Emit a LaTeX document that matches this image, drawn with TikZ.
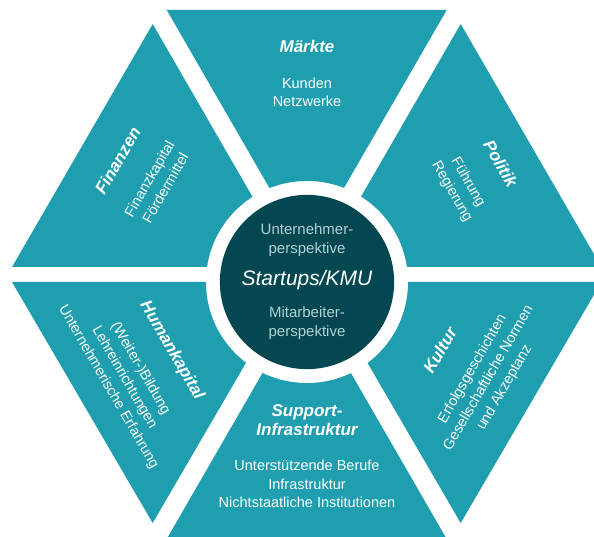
\documentclass[tikz,border=0pt]{standalone}
\usepackage{fontspec}
\setmainfont{Liberation Sans}
\usepackage{tikz}

\definecolor{hexteal}{RGB}{31,158,176}
\definecolor{hexcore}{RGB}{3,71,80}
\definecolor{corefont}{RGB}{178,209,215}

\newcommand{\fieldhead}{\bfseries\itshape\fontsize{17}{20}\selectfont}

\begin{document}
\begin{tikzpicture}[x=1pt, y=1pt,
        sector/.style={fill=hexteal},
        fieldtext/.style={text=white, align=center, inner sep=0pt,
            font=\fontsize{14.5}{18.5}\selectfont}]
            \clip (0, 0) rectangle (594, 536);
            \fill[sector] (166.7, 526) -- (446.7, 526) -- (306.7, 283.5) -- cycle;
            \fill[sector] (12, 269) -- (152.7, 512) -- (293, 269) -- cycle;
            \fill[sector] (12, 254) -- (152.7, 13) -- (293, 254) -- cycle;
            \fill[sector] (601.4, 269) -- (460.7, 512) -- (320.4, 269) -- cycle;
            \fill[sector] (601.4, 254) -- (460.7, 13) -- (320.4, 254) -- cycle;
            \fill[sector] (166.7, -3) -- (446.7, -3) -- (306.7, 239.5) -- cycle;
            \fill[white] (307, 254) circle (101);
            \node[circle, fill=hexcore, minimum size=174pt, inner sep=0pt,
                text=corefont, align=center, font=\fontsize{15}{19}\selectfont]
                (core) at (307, 254)
                {Unternehmer-\\perspektive\\[13pt]
                 {\color{white}\itshape\fontsize{21}{24}\selectfont Startups/KMU}\\[13pt]
                 Mitarbeiter-\\perspektive};
            \node[fieldtext] (maerkte) at (307, 462.5)
                {{\fieldhead Märkte}\\[17pt]Kunden\\Netzwerke};
            \node[fieldtext, rotate=60] (finanzen) at (141, 362)
                {{\fieldhead Finanzen}\\[17pt]Finanzkapital\\Fördermittel};
            \node[fieldtext, rotate=-60] (politik) at (476, 358.5)
                {{\fieldhead Politik}\\[17pt]Führung\\Regierung};
            \node[fieldtext, rotate=-60] (humankapital) at (140.5, 167.5)
                {{\fieldhead Humankapital}\\[17pt](Weiter-)Bildung\\Lehreinrichtungen\\Unternehmerische Erfahrung};
            \node[fieldtext, rotate=60] (kultur) at (472.5, 167)
                {{\fieldhead Kultur}\\[17pt]Erfolgsgeschichten\\Gesellschaftliche Normen\\und Akzeptanz};
            \node[fieldtext] (support) at (307, 79.5)
                {{\fieldhead Support-}\\{\fieldhead Infrastruktur}\\[17pt]Unterstützende Berufe\\Infrastruktur\\Nichtstaatliche Institutionen};
        \end{tikzpicture}
\end{document}
